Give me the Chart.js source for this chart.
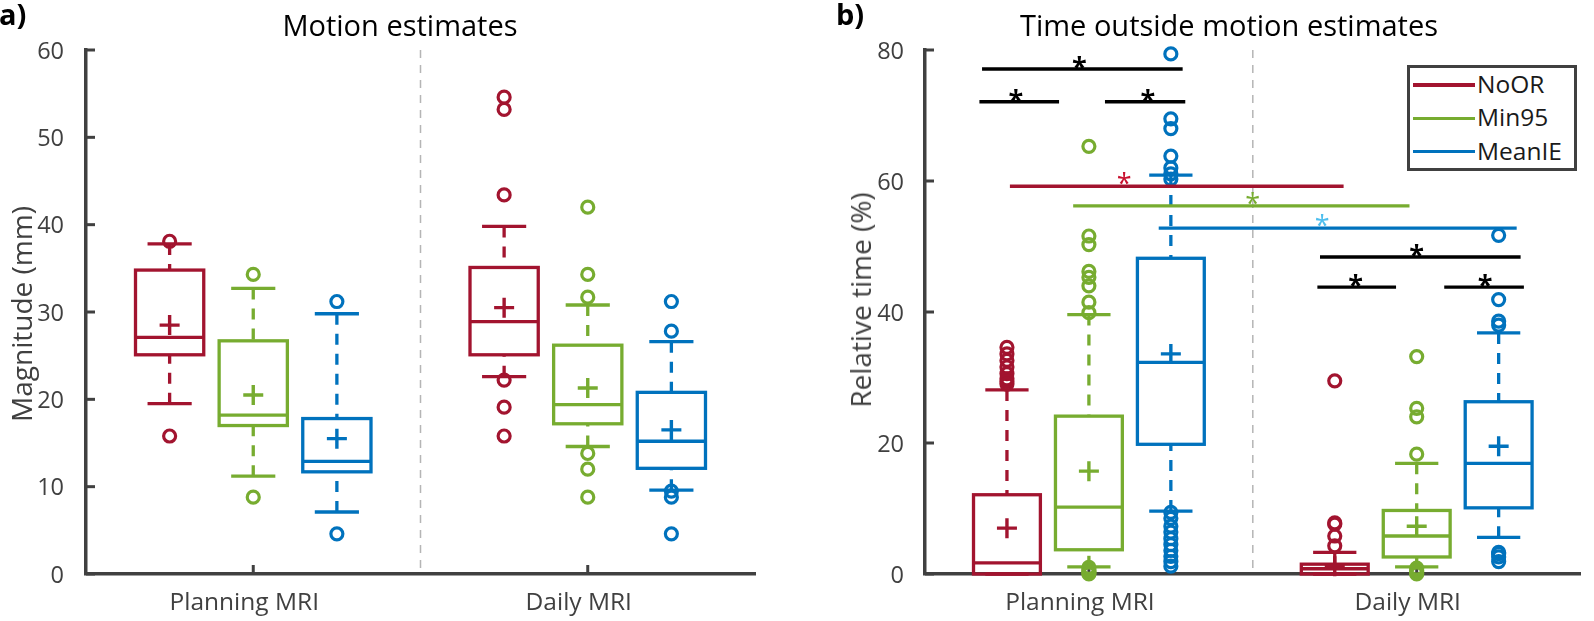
<!DOCTYPE html>
<html>
<head>
<meta charset="utf-8">
<script src="https://cdn.jsdelivr.net/npm/chart.js@4.4.1/dist/chart.umd.min.js"></script>
<style>
  html, body { margin: 0; padding: 0; background: #fff; }
  body { width: 1594px; height: 621px; position: relative; overflow: hidden; font-family: "Open Sans", sans-serif; }
  canvas { position: absolute; top: 0; }
  .t { position: absolute; white-space: nowrap; line-height: 1; }
  .title { font-size: 29px; color: #000; transform: translateX(-50%); top: 10px; }
  .panel { font-size: 29px; font-weight: bold; color: #000; top: -1px; }
  .ylab { font-size: 28px; color: #404040; transform: translate(-50%, -50%) rotate(-90deg); }
  #legend { position: absolute; left: 1407px; top: 65px; width: 170px; height: 106px; box-sizing: border-box; border: 3.5px solid #404040; background: #fff; }
  #legend .ln { position: absolute; left: 3px; width: 62px; height: 3.5px; }
  #legend .lt { position: absolute; left: 67px; font-size: 24.5px; line-height: 1; color: #1a1a1a; }
</style>
</head>
<body>
<canvas id="ca" width="797" height="621" style="left:0px"></canvas>
<canvas id="cb" width="797" height="621" style="left:797px"></canvas>

<div class="t panel" style="left:-1px">a)</div>
<div class="t panel" style="left:836px">b)</div>
<div class="t title" style="left:400px">Motion estimates</div>
<div class="t title" style="left:1229px">Time outside motion estimates</div>
<div class="t ylab" style="left:21px; top:314px">Magnitude (mm)</div>
<div class="t ylab" style="left:860px; top:300px">Relative time (%)</div>
<div id="legend"></div>

<script>
// ---------------- DATA ----------------
const cats = ['Planning MRI', 'Daily MRI'];
const methods = ['NoOR', 'Min95', 'MeanIE'];

// Panel a: Motion estimates (mm); rows = methods, columns = categories
const motionLow  = [[19.5, 22.6], [11.2, 14.6], [7.1, 9.6]];
const motionQ1   = [[25.1, 25.1], [17.0, 17.2], [11.7, 12.1]];
const motionMed  = [[27.1, 28.9], [18.2, 19.4], [12.9, 15.2]];
const motionQ3   = [[34.8, 35.1], [26.7, 26.2], [17.8, 20.8]];
const motionHigh = [[37.8, 39.8], [32.7, 30.8], [29.8, 26.6]];
const motionMean = [[28.5, 30.5], [20.5, 21.3], [15.5, 16.5]];
const motionOut  = [
  [[38.1, 15.8], [54.6, 53.2, 43.4, 22.2, 19.1, 15.8]],
  [[34.3, 8.8], [42.0, 34.3, 31.7, 13.8, 12.0, 8.8]],
  [[31.2, 4.6], [31.2, 27.8, 9.5, 8.8, 4.6]]
];
const motionTicks = [0, 10, 20, 30, 40, 50, 60];

// Panel b: Time outside motion estimates (%)
const timeLow  = [[0, 0], [1.1, 1.1], [9.6, 5.6]];
const timeQ1   = [[0, 0], [3.7, 2.6], [19.8, 10.1]];
const timeMed  = [[1.7, 0.8], [10.2, 5.8], [32.3, 16.9]];
const timeQ3   = [[12.1, 1.5], [24.1, 9.7], [48.2, 26.3]];
const timeHigh = [[28.1, 3.3], [39.6, 16.9], [60.9, 36.8]];
const timeMean = [[7.0, 1.2], [15.7, 7.3], [33.6, 19.5]];
const timeOut  = [
  [[34.6, 33.6, 32.6, 31.6, 30.6, 29.8, 29.4, 29.0], [29.5, 7.8, 7.6, 5.8, 4.3]],
  [[65.3, 51.6, 50.3, 46.2, 45.3, 44.0, 41.5, 39.9, 1.0, 0.7, 0.4, 0.2, 0.0], [33.2, 25.3, 24.0, 18.3, 0.9, 0.5, 0.2, 0.0]],
  [[79.4, 69.5, 68.0, 63.8, 62.0, 61.1, 60.3, 9.4, 8.5, 7.3, 6.4, 5.4, 4.5, 3.6, 2.7, 1.9, 1.2], [51.7, 41.9, 38.6, 38.0, 3.3, 3.1, 2.6, 1.9]]
];
const timeTicks = [0, 20, 40, 60, 80];

// Significance bars (panel b), in data units
const sigY     = [77.1, 72.1, 72.1, 59.2, 56.2, 52.8, 48.4, 43.8, 43.8];
const sigX1    = [0.674, 0.666, 1.049, 0.759, 0.952, 1.213, 1.705, 1.697, 2.084];
const sigX2    = [1.286, 0.909, 1.294, 1.777, 1.978, 2.305, 2.317, 1.937, 2.327];
const sigStarX = [0.971, 0.777, 1.180, 1.108, 1.500, 1.712, 2.000, 1.814, 2.209];

// ---------------- STYLE ----------------
const COLORS = ['#A2142F', '#77AC30', '#0072BD'];
const SIG_LINE_COLORS = ['#000', '#000', '#000', '#A2142F', '#77AC30', '#0072BD', '#000', '#000', '#000'];
const SIG_STAR_COLORS = ['#000', '#000', '#000', '#C8102E', '#77AC30', '#4DBEEE', '#000', '#000', '#000'];
const SIG_STAR_BOLD   = [true, true, true, false, false, false, true, true, true];
const OFFS = [-0.25, 0, 0.25];
const BOX_W = 0.204, CAP_W = 0.132;
const AXIS = '#404040';
const LW = 3.3;

Chart.defaults.font.family = '"Open Sans", sans-serif';

function makeBoxPlugin(d) {
  function line(ctx, x1, y1, x2, y2) { ctx.beginPath(); ctx.moveTo(x1, y1); ctx.lineTo(x2, y2); ctx.stroke(); }
  return {
    id: 'boxes_' + d.name,
    beforeDatasetsDraw(chart) {
      const { ctx, chartArea: a, scales: { x, y } } = chart;
      ctx.save();
      // dashed separator
      ctx.strokeStyle = '#b5b5b5'; ctx.lineWidth = 1.5; ctx.setLineDash([8, 7]);
      const sx = x.getPixelForValue(1.5);
      line(ctx, sx, a.top, sx, a.bottom);
      ctx.lineJoin = 'miter'; ctx.lineCap = 'butt';
      for (let m = 0; m < methods.length; m++) {
        for (let c = 0; c < cats.length; c++) {
          const xv = c + 1 + OFFS[m];
          const px = x.getPixelForValue(xv);
          const hw = (x.getPixelForValue(xv + BOX_W / 2) - x.getPixelForValue(xv - BOX_W / 2)) / 2;
          const cw = (x.getPixelForValue(xv + CAP_W / 2) - x.getPixelForValue(xv - CAP_W / 2)) / 2;
          const yLo = y.getPixelForValue(d.low[m][c]);
          const yQ1 = y.getPixelForValue(d.q1[m][c]);
          const yMd = y.getPixelForValue(d.med[m][c]);
          const yQ3 = y.getPixelForValue(d.q3[m][c]);
          const yHi = y.getPixelForValue(d.high[m][c]);
          ctx.strokeStyle = COLORS[m];
          ctx.lineWidth = LW;
          ctx.setLineDash([11, 9]);
          if (yHi < yQ3) line(ctx, px, yHi, px, yQ3);
          if (yLo > yQ1) line(ctx, px, yLo, px, yQ1);
          ctx.setLineDash([]);
          line(ctx, px - cw, yHi, px + cw, yHi);
          line(ctx, px - cw, yLo, px + cw, yLo);
          ctx.strokeRect(px - hw, yQ3, 2 * hw, yQ1 - yQ3);
          line(ctx, px - hw, yMd, px + hw, yMd);
        }
      }
      // inward ticks
      ctx.strokeStyle = AXIS; ctx.lineWidth = 3;
      y.ticks.forEach(t => { const py = y.getPixelForValue(t.value); line(ctx, a.left, py, a.left + 9, py); });
      x.ticks.forEach(t => { const qx = x.getPixelForValue(t.value); line(ctx, qx, a.bottom, qx, a.bottom - 9); });
      ctx.restore();
    },
    afterDatasetsDraw(chart) {
      if (!d.sig) return;
      const { ctx, scales: { x, y } } = chart;
      ctx.save();
      ctx.lineWidth = 3.3; ctx.lineCap = 'butt';
      ctx.textAlign = 'center'; ctx.textBaseline = 'alphabetic';
      for (let i = 0; i < sigY.length; i++) {
        const py = y.getPixelForValue(sigY[i]);
        ctx.strokeStyle = SIG_LINE_COLORS[i];
        line(ctx, x.getPixelForValue(sigX1[i]), py, x.getPixelForValue(sigX2[i]), py);
      }
      for (let i = 0; i < sigY.length; i++) {
        const py = y.getPixelForValue(sigY[i]);
        ctx.fillStyle = SIG_STAR_COLORS[i];
        ctx.font = (SIG_STAR_BOLD[i] ? 'bold ' : '') + '27px "Open Sans", sans-serif';
        ctx.fillText('*', x.getPixelForValue(sigStarX[i]), py + 7);
      }
      ctx.restore();
    }
  };
}

function makeChart(id, d) {
  const datasets = [];
  for (let m = 0; m < methods.length; m++) {
    const pts = [];
    for (let c = 0; c < cats.length; c++) d.out[m][c].forEach(v => pts.push({ x: c + 1 + OFFS[m], y: v }));
    datasets.push({
      label: methods[m] + ' outliers', data: pts, pointStyle: 'circle', pointRadius: 6, pointHoverRadius: 6,
      borderWidth: 3.2, borderColor: COLORS[m], backgroundColor: 'rgba(0,0,0,0)', clip: false
    });
  }
  for (let m = 0; m < methods.length; m++) {
    datasets.push({
      label: methods[m] + ' mean', data: cats.map((_, c) => ({ x: c + 1 + OFFS[m], y: d.mean[m][c] })),
      pointStyle: 'cross', pointRadius: 10, pointHoverRadius: 10, borderWidth: 3.4, borderColor: COLORS[m], clip: false
    });
  }
  return new Chart(document.getElementById(id), {
    type: 'scatter',
    data: { datasets },
    options: {
      responsive: false, animation: false, events: [],
      layout: { padding: d.padding },
      plugins: { legend: { display: false }, tooltip: { enabled: false } },
      scales: {
        x: {
          type: 'linear', min: 0.5, max: 2.5,
          afterBuildTicks: s => { s.ticks = cats.map((_, i) => ({ value: i + 1 })); },
          afterFit: s => { s.height = 47; },
          grid: { display: false },
          border: { display: true, color: AXIS, width: 3.5 },
          ticks: { callback: v => cats[Math.round(v) - 1] || '', font: { size: 24.5 }, color: AXIS, padding: 6, labelOffset: -9, autoSkip: false, maxRotation: 0 }
        },
        y: {
          type: 'linear', min: 0, max: d.ticks[d.ticks.length - 1],
          afterBuildTicks: s => { s.ticks = d.ticks.map(v => ({ value: v })); },
          afterFit: s => { s.width = d.yw; },
          grid: { display: false },
          border: { display: true, color: AXIS, width: 3.5 },
          ticks: { font: { size: 23.5 }, color: AXIS, padding: d.ypad, labelOffset: 2 }
        }
      }
    },
    plugins: [makeBoxPlugin(d)]
  });
}

makeChart('ca', {
  name: 'a', low: motionLow, q1: motionQ1, med: motionMed, q3: motionQ3, high: motionHigh, mean: motionMean, out: motionOut,
  ticks: motionTicks, yw: 86, ypad: 14, padding: { left: 0, right: 42, top: 50, bottom: 0 }, sig: false
});
makeChart('cb', {
  name: 'b', low: timeLow, q1: timeQ1, med: timeMed, q3: timeQ3, high: timeHigh, mean: timeMean, out: timeOut,
  ticks: timeTicks, yw: 128, ypad: 13, padding: { left: 0, right: 2, top: 50, bottom: 0 }, sig: true
});

// legend (HTML)
const legendRowY = [17, 50.3, 83.6];
const lg = document.getElementById('legend');
methods.forEach((name, i) => {
  const ln = document.createElement('div');
  ln.className = 'ln'; ln.style.top = (legendRowY[i] - 1.75) + 'px'; ln.style.background = COLORS[i];
  lg.appendChild(ln);
  const lt = document.createElement('div');
  lt.className = 'lt'; lt.style.top = (legendRowY[i] - 13) + 'px'; lt.textContent = name;
  lg.appendChild(lt);
});
</script>
</body>
</html>
